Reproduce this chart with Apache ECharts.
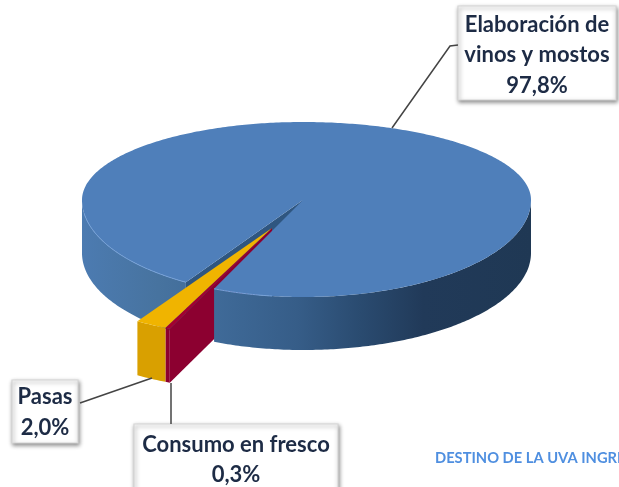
<!DOCTYPE html>
<html>
<head>
<meta charset="utf-8">
<style>html,body{margin:0;padding:0;background:#fff;overflow:hidden}#c{width:619px;height:487px;filter:blur(0.45px)}</style>
<script src="https://cdn.jsdelivr.net/npm/echarts@6/dist/echarts.min.js"></script>
</head>
<body>
<div id="c"></div>
<script>
// Data
const categories = ['Elaboración de\nvinos y mostos', 'Consumo en fresco', 'Pasas'];
const values = [97.8, 0.3, 2.0];
const footnote = 'DESTINO DE LA UVA INGRESADA';

// Projection of the 3D pie
const startAngle = 122;           // screen angle where the first slice begins (clockwise)
const pie = { cx: 303, cy: 200, rxLeft: 221, rxRight: 228, ryTop: 78, ryBottom: 97, depth: 53 };
const wedge = { cx: 272, cy: 228, rxLeft: 254, rxRight: 254, ryTop: 88, ryBottom: 110, depth: 54 };

const total = values.reduce((a, b) => a + b, 0);
let acc = startAngle;
const spans = values.map(v => { const s = acc; acc += v / total * 360; return [s, acc]; });

const pt = (g, deg, dy) => {
  const r = deg * Math.PI / 180, s = Math.sin(r), c = Math.cos(r);
  return [g.cx + (c < 0 ? g.rxLeft : g.rxRight) * c, g.cy + (s > 0 ? g.ryBottom : g.ryTop) * s + (dy || 0)];
};
const arc = (g, a, b, dy) => {
  const n = Math.max(2, Math.ceil(Math.abs(b - a) / 0.75)), out = [];
  for (let i = 0; i <= n; i++) out.push(pt(g, a + (b - a) * i / n, dy));
  return out;
};
const sector = (g, a, b) => [[g.cx, g.cy]].concat(arc(g, a, b));
const band = (g, a, b) => arc(g, a, b).concat(arc(g, b, a, g.depth));
const radialWall = (g, a) => {
  const p = pt(g, a);
  return [[g.cx, g.cy], p, [p[0], p[1] + g.depth], [g.cx, g.cy + g.depth]];
};

const bandFill = {
  type: 'linear', x: 82, y: 0, x2: 531, y2: 0, global: true,
  colorStops: [
    { offset: 0, color: '#4c7bb1' }, { offset: 0.17, color: '#47739f' },
    { offset: 0.3, color: '#3f6a98' }, { offset: 0.48, color: '#365d88' },
    { offset: 0.62, color: '#2a4b70' }, { offset: 0.76, color: '#213a59' },
    { offset: 1, color: '#1f3854' }
  ]
};

const [blue, red, yellow] = spans;
const lightEdge = { stroke: '#76a1d8', lineWidth: 1, fill: null };
const faces = [
  { pts: radialWall(pie, blue[0]), style: { fill: '#2f5680' } },
  { pts: band(pie, blue[0], 180), style: { fill: bandFill } },
  { pts: radialWall(wedge, red[0]), style: { fill: '#8c0030' } },
  { pts: band(wedge, red[0], red[1]), style: { fill: '#8c0030' } },
  { pts: band(wedge, yellow[0], yellow[1]), style: { fill: '#d9a000' } },
  { pts: band(pie, 0, blue[1] - 360), style: { fill: bandFill } },
  { pts: sector(pie, blue[0], blue[1]), style: { fill: '#4f7fba' } },
  { pts: sector(wedge, red[0], red[1]), style: { fill: '#a3002f' } },
  { pts: sector(wedge, yellow[0], yellow[1]), style: { fill: '#f0b400' } },
  { pts: arc(pie, blue[0], 172), open: true, style: lightEdge },
  { pts: arc(pie, 98, blue[1] - 360), open: true, style: lightEdge }
];

const fmt = v => v.toFixed(1).replace('.', ',') + '%';
const labelFont = { fontFamily: 'Lato', fontWeight: 'bold', fontSize: 22, lineHeight: 30.5, fill: '#1d2b45', align: 'center' };

const box = (x, y, w, h, text, ty) => ({
  type: 'group', z: 20, children: [
    { type: 'rect', shape: { x, y, width: w, height: h },
      style: { fill: '#fff', stroke: '#d6d6d6', lineWidth: 1.2, shadowColor: 'rgba(0,0,0,0.45)', shadowBlur: 4, shadowOffsetX: 1, shadowOffsetY: 2 } },
    { type: 'text', x: x + w / 2, y: ty,
      style: Object.assign({ text, verticalAlign: 'middle' }, labelFont) }
  ]
});
const leader = pts => ({ type: 'polyline', z: 15, shape: { points: pts }, style: { stroke: '#444', lineWidth: 1.5, fill: null } });

const chart = echarts.init(document.getElementById('c'), null, { renderer: 'canvas' });
chart.setOption({
  backgroundColor: '#ffffff',
  animation: false,
  series: [{
    type: 'custom',
    coordinateSystem: 'none',
    silent: true,
    data: faces.map((f, i) => i),
    renderItem: (params) => {
      const f = faces[params.dataIndex];
      return {
        type: f.open ? 'polyline' : 'polygon',
        shape: { points: f.pts },
        style: f.style
      };
    }
  }],
  graphic: [
    leader([[458, 45], [450, 46], [392, 128]]),
    leader([[80, 403], [152, 378]]),
    leader([[171, 383], [171, 424]]),
    box(458, 6, 158, 94, categories[0] + '\n' + fmt(values[0]), 55),
    box(12, 380, 66, 63, categories[2] + '\n' + fmt(values[2]), 412.5),
    box(134, 424, 204, 72, categories[1] + '\n' + fmt(values[1]), 460),
    { type: 'text', z: 20, x: 435, y: 458,
      style: { text: footnote, fontFamily: 'Lato', fontWeight: 'bold', fontSize: 14.7, fill: '#4f8fe0', verticalAlign: 'middle' } }
  ]
});
</script>
</body>
</html>
